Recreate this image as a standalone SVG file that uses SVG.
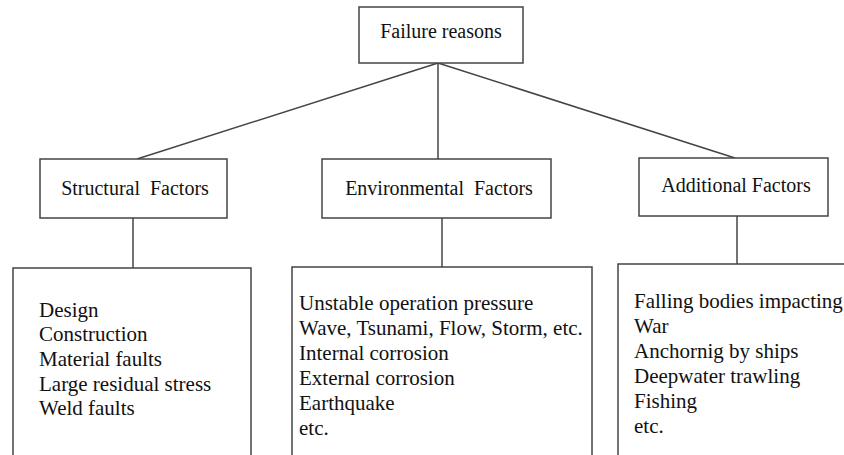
<svg xmlns="http://www.w3.org/2000/svg" width="844" height="455" viewBox="0 0 844 455">
<style>
.box{fill:#fff;stroke:#444;stroke-width:1.5}
.ln{stroke:#444;stroke-width:1.5;fill:none}
.h{font-size:20px;fill:#111;text-anchor:middle}
.b{font-size:21px;fill:#111}
</style>
<rect width="844" height="455" fill="#fff"/>
<g id="connectors">
<line class="ln" x1="438" y1="63" x2="137" y2="159"/>
<line class="ln" x1="438" y1="63" x2="438" y2="159"/>
<line class="ln" x1="438" y1="63" x2="735" y2="158"/>
<line class="ln" x1="133" y1="218" x2="133" y2="268"/>
<line class="ln" x1="442" y1="218" x2="442" y2="267"/>
<line class="ln" x1="737" y1="216" x2="737" y2="265"/>
</g>
<g id="root" font-family="Liberation Serif, Times New Roman, serif">
<rect class="box" x="359" y="7" width="164" height="56"/>
<text class="h" x="441" y="38">Failure reasons</text>
</g>
<g id="structural" font-family="Liberation Serif, Times New Roman, serif">
<rect class="box" x="40" y="159" width="187" height="59"/>
<text class="h" x="135" y="195" xml:space="preserve">Structural  Factors</text>
</g>
<g id="environmental" font-family="Liberation Serif, Times New Roman, serif">
<rect class="box" x="322" y="159" width="229" height="59"/>
<text class="h" x="439" y="195" xml:space="preserve">Environmental  Factors</text>
</g>
<g id="additional" font-family="Liberation Serif, Times New Roman, serif">
<rect class="box" x="639" y="158" width="189" height="58"/>
<text class="h" x="736" y="192">Additional Factors</text>
</g>
<g id="structural-list" font-family="Liberation Serif, Times New Roman, serif">
<rect class="box" x="13" y="268" width="238" height="200"/>
<text class="b" x="39" y="317">Design</text>
<text class="b" x="39" y="341">Construction</text>
<text class="b" x="39" y="366">Material faults</text>
<text class="b" x="39" y="391">Large residual stress</text>
<text class="b" x="39" y="415">Weld faults</text>
</g>
<g id="environmental-list" font-family="Liberation Serif, Times New Roman, serif">
<rect class="box" x="292" y="267" width="300" height="200"/>
<text class="b" x="299" y="310">Unstable operation pressure</text>
<text class="b" x="299" y="335">Wave, Tsunami, Flow, Storm, etc.</text>
<text class="b" x="299" y="360">Internal corrosion</text>
<text class="b" x="299" y="385">External corrosion</text>
<text class="b" x="299" y="410">Earthquake</text>
<text class="b" x="299" y="435">etc.</text>
</g>
<g id="additional-list" font-family="Liberation Serif, Times New Roman, serif">
<rect class="box" x="618" y="264" width="240" height="200"/>
<text class="b" x="634" y="308">Falling bodies impacting</text>
<text class="b" x="634" y="333">War</text>
<text class="b" x="634" y="358">Anchornig by ships</text>
<text class="b" x="634" y="383">Deepwater trawling</text>
<text class="b" x="634" y="408">Fishing</text>
<text class="b" x="634" y="433">etc.</text>
</g>
</svg>
